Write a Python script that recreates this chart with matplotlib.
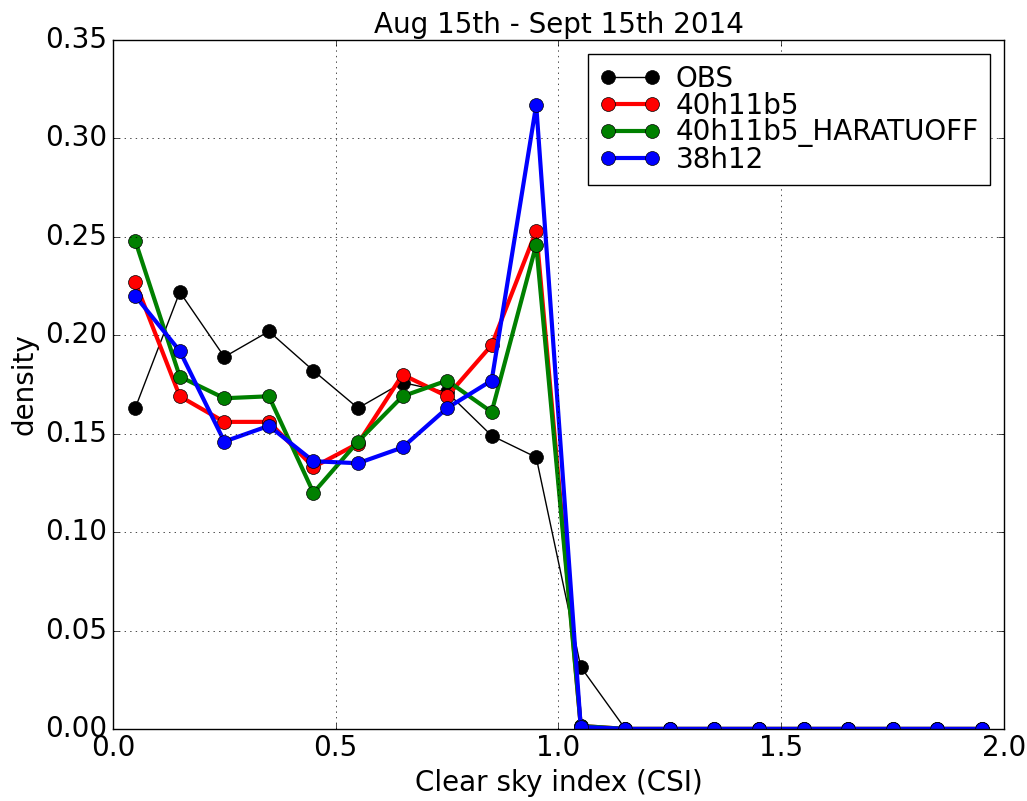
#!/usr/bin/python3

import matplotlib
matplotlib.use("Agg")
from matplotlib import pyplot as plt

# bin centres of the clear sky index histogram
csi = [0.05, 0.15, 0.25, 0.35, 0.45, 0.55, 0.65, 0.75, 0.85, 0.95,
       1.05, 1.15, 1.25, 1.35, 1.45, 1.55, 1.65, 1.75, 1.85, 1.95]

obs = [0.163, 0.222, 0.189, 0.202, 0.182, 0.163, 0.176, 0.171, 0.149, 0.138,
       0.0315, 0, 0, 0, 0, 0, 0, 0, 0, 0]
run_40h11b5 = [0.227, 0.169, 0.156, 0.156, 0.133, 0.145, 0.180, 0.169, 0.195, 0.253,
               0.0015, 0, 0, 0, 0, 0, 0, 0, 0, 0]
run_haratuoff = [0.248, 0.179, 0.168, 0.169, 0.120, 0.146, 0.169, 0.177, 0.161, 0.246,
                 0.0015, 0, 0, 0, 0, 0, 0, 0, 0, 0]
run_38h12 = [0.220, 0.192, 0.146, 0.154, 0.136, 0.135, 0.143, 0.163, 0.177, 0.317,
             0.001, 0, 0, 0, 0, 0, 0, 0, 0, 0]


def main():
    plt.style.use("classic")
    plt.rcParams["font.size"] = 20
    fig = plt.figure(figsize=(10.27, 8.01), dpi=100, facecolor="white")
    ax = fig.add_axes([0.110, 0.090, 0.8676, 0.860])

    ax.plot(csi, obs, "k-o", lw=1, ms=10, label="OBS")
    ax.plot(csi, run_40h11b5, "r-o", lw=3, ms=10, label="40h11b5")
    ax.plot(csi, run_haratuoff, "g-o", lw=3, ms=10, label="40h11b5_HARATUOFF")
    ax.plot(csi, run_38h12, "b-o", lw=3, ms=10, label="38h12")

    ax.set_xlim(0, 2.0)
    ax.set_ylim(0, 0.35)
    ax.set_xticks([0.0, 0.5, 1.0, 1.5, 2.0])
    ax.set_yticks([0.0, 0.05, 0.10, 0.15, 0.20, 0.25, 0.30, 0.35])
    ax.set_yticklabels(["%.2f" % v for v in ax.get_yticks()])
    ax.set_xticklabels(["%.1f" % v for v in ax.get_xticks()])
    ax.tick_params(labelsize=20)
    ax.grid(True, color="k", linestyle=":")
    ax.set_xlabel("Clear sky index (CSI)", fontsize=20)
    ax.set_ylabel("density", fontsize=20)
    ax.set_title("Aug 15th - Sept 15th 2014", fontsize=20)
    ax.legend(loc="upper right", fontsize=20, numpoints=2,
              handlelength=2.2, handletextpad=0.55,
              borderpad=0.4, labelspacing=-0.05)

    fig.savefig("out.png", dpi=100, facecolor="white")


if __name__ == "__main__":
    main()
